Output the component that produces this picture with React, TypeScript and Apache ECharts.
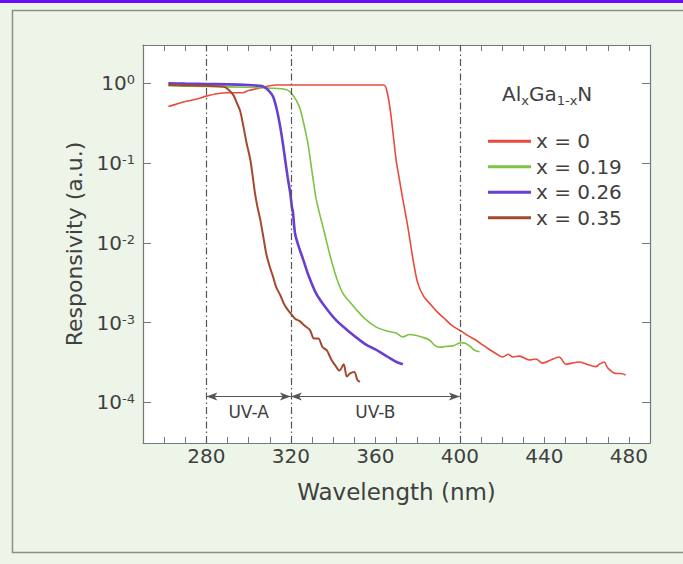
import React, { useEffect, useRef } from "react";
import * as echarts from "echarts";

// x = 0
const redWl = [262, 266, 270, 275, 280, 285, 290, 297, 300, 305, 310, 313, 330, 350, 364, 365.5, 367, 368.5, 369.8, 371, 373, 375, 376.4, 377.8, 380.1, 383, 385.7, 389, 392, 396, 400.6, 404, 407.7, 411, 414, 417, 420.3, 423, 425, 428.2, 432.8, 436, 439.2, 443, 447, 450.2, 453, 456.5, 460, 464.4, 466, 468.3, 470, 473.8, 476, 478.5];
const redVal = [0.51, 0.55, 0.59, 0.63, 0.69, 0.74, 0.76, 0.76, 0.81, 0.87, 0.93, 0.95, 0.95, 0.95, 0.95, 0.79, 0.47, 0.22, 0.11, 0.071, 0.035, 0.018, 0.0107, 0.0062, 0.0031, 0.0021, 0.00174, 0.00138, 0.00117, 0.00093, 0.00078, 0.00068, 0.0006, 0.00052, 0.00046, 0.00041, 0.00037, 0.0004, 0.00037, 0.00038, 0.00034, 0.00035, 0.00031, 0.00034, 0.00037, 0.0003, 0.00031, 0.00032, 0.0003, 0.00028, 0.0003, 0.00032, 0.00027, 0.00023, 0.00023, 0.00022];

// x = 0.19
const greenWl = [262, 280, 300, 310, 318, 321, 324, 326, 328, 329, 330.5, 332, 334, 336, 338, 340, 342, 344.7, 348, 351, 355, 360, 365, 369.8, 373, 376, 379.4, 382, 385.7, 388, 390.4, 393, 396.7, 400.6, 402.5, 404.6, 407, 409.3];
const greenVal = [0.93, 0.91, 0.89, 0.87, 0.83, 0.71, 0.51, 0.32, 0.18, 0.12, 0.063, 0.035, 0.021, 0.013, 0.0079, 0.005, 0.0034, 0.0023, 0.0018, 0.00145, 0.00112, 0.00089, 0.00079, 0.00074, 0.00066, 0.00071, 0.00069, 0.00066, 0.0006, 0.00052, 0.00049, 0.0005, 0.00051, 0.00056, 0.00055, 0.00051, 0.00045, 0.00043];

// x = 0.26
const purpleWl = [262, 270, 280, 290, 300, 305, 307, 309.5, 311.6, 313.5, 315, 316.3, 317.3, 318.5, 319.7, 320.5, 321, 322, 324, 325.8, 328.5, 332, 336, 341.4, 347, 352.7, 356, 360, 366, 370, 373];
const purpleVal = [1.0, 0.99, 0.98, 0.97, 0.95, 0.93, 0.91, 0.81, 0.68, 0.45, 0.28, 0.17, 0.11, 0.066, 0.042, 0.028, 0.024, 0.013, 0.0085, 0.0062, 0.0038, 0.0023, 0.0016, 0.00107, 0.00079, 0.0006, 0.00052, 0.00046, 0.00037, 0.00032, 0.0003];

// x = 0.35
const brownWl = [262, 270, 280, 288, 290.5, 292.8, 294.5, 296, 297.5, 299, 300.8, 302, 303, 304.2, 305.5, 307, 308.3, 310, 311.5, 313, 315, 317, 319.7, 322, 324, 327, 329, 331, 333, 335, 337, 339, 341.4, 343, 345, 346.5, 348, 350, 351.5, 352.7];
const brownVal = [0.95, 0.94, 0.93, 0.91, 0.83, 0.71, 0.56, 0.45, 0.29, 0.18, 0.11, 0.066, 0.042, 0.028, 0.0195, 0.0117, 0.0074, 0.005, 0.0038, 0.0028, 0.0022, 0.00166, 0.00132, 0.00112, 0.00105, 0.00089, 0.00081, 0.00063, 0.00063, 0.00049, 0.00045, 0.00035, 0.00028, 0.00025, 0.0003, 0.00021, 0.00023, 0.00024, 0.00019, 0.00018];

const seriesNames = ["x = 0", "x = 0.19", "x = 0.26", "x = 0.35"];
const xTickLabels = [280, 320, 360, 400, 440, 480];
const boundaryWl = [280, 320, 400];
const uvBands = [
  { name: "UV-A", from: 280, to: 320 },
  { name: "UV-B", from: 320, to: 400 },
];
const bandArrowLevel = 1.18e-4;

const zip = (a: number[], b: number[]) => a.map((v, i) => [v, b[i]]);

const FONT = "DejaVu Sans";
const TXT = "#404040";

export default function App() {
  const ref = useRef<HTMLDivElement>(null);
  useEffect(() => {
    document.body.style.margin = "0";
    const chart = echarts.init(ref.current!, null, { renderer: "svg" });
    const yMin = Math.pow(10, -4.51);
    const yMax = Math.pow(10, 0.48);
    const yLabel = (v: number) => {
      const e = Math.log10(v);
      const r = Math.round(e);
      if (Math.abs(e - r) > 1e-6) return "";
      return "{b|10}{s|" + r + "}";
    };
    const commonX = {
      type: "value" as const,
      min: 250,
      max: 490,
      interval: 10,
      splitLine: { show: false },
      axisLine: { show: true, lineStyle: { color: "#777", width: 1.2 } },
      axisTick: { show: true, inside: true, length: 6, lineStyle: { color: "#777", width: 1 } },
    };
    const commonY = {
      type: "log" as const,
      logBase: 10,
      min: yMin,
      max: yMax,
      splitLine: { show: false },
      minorTick: { show: false },
      axisLine: { show: true, lineStyle: { color: "#777", width: 1.2 } },
      axisTick: { show: true, inside: true, length: 8, lineStyle: { color: "#777", width: 1 } },
    };
    const smooth = 0.3;
    chart.setOption({
      animation: false,
      backgroundColor: "#edf5e9",
      textStyle: { fontFamily: FONT },
      grid: { left: 143, top: 45, right: 33, bottom: 121, show: true, backgroundColor: "#ffffff", borderWidth: 0 },
      xAxis: [
        {
          ...commonX,
          position: "bottom",
          name: "Wavelength (nm)",
          nameLocation: "middle",
          nameGap: 37,
          nameTextStyle: { fontFamily: FONT, fontSize: 23, color: TXT },
          axisLabel: {
            margin: 3,
            fontFamily: FONT,
            fontSize: 20,
            color: TXT,
            formatter: (v: number) => (xTickLabels.indexOf(v) >= 0 ? String(v) : ""),
          },
        },
        { ...commonX, position: "top", axisLabel: { show: false } },
      ],
      yAxis: [
        {
          ...commonY,
          position: "left",
          name: "Responsivity (a.u.)",
          nameLocation: "middle",
          nameGap: 57,
          nameTextStyle: { fontFamily: FONT, fontSize: 22, color: TXT },
          axisLabel: {
            margin: 8,
            showMinLabel: false,
            showMaxLabel: false,
            formatter: yLabel,
            rich: {
              b: { fontFamily: FONT, fontSize: 20, color: TXT },
              s: { fontFamily: FONT, fontSize: 13, color: TXT, verticalAlign: "top", padding: [0, 0, 6, 0] },
            },
          },
        },
        { ...commonY, position: "right", axisLabel: { show: false } },
      ],
      legend: {
        data: seriesNames,
        orient: "vertical",
        left: 488,
        top: 131,
        icon: "rect",
        itemWidth: 43,
        itemHeight: 3,
        itemGap: 5,
        padding: 0,
        textStyle: { fontFamily: FONT, fontSize: 20, color: TXT, lineHeight: 20.5 },
      },
      graphic: [
        { type: "rect", shape: { x: 0, y: 0, width: 683, height: 3 }, style: { fill: "#6a0cf5" }, silent: true },
        {
          type: "rect",
          shape: { x: 12.5, y: 10.5, width: 700, height: 542 },
          style: { fill: "none", stroke: "#8a8f88", lineWidth: 1.5 },
          silent: true,
        },
        {
          type: "text",
          left: 502,
          top: 84,
          style: {
            text: "{n|Al}{s|x}{n|Ga}{s|1-x}{n|N}",
            rich: {
              n: { fontFamily: FONT, fontSize: 20, fill: TXT, color: TXT, lineHeight: 26 },
              s: { fontFamily: FONT, fontSize: 13, fill: TXT, color: TXT, verticalAlign: "bottom", lineHeight: 26 },
            },
          },
        },
      ],
      series: [
        {
          name: seriesNames[0],
          type: "line",
          data: zip(redWl, redVal),
          showSymbol: false,
          smooth,
          color: "#e94a3a",
          lineStyle: { width: 1.6, color: "#e94a3a" },
          markLine: {
            silent: true,
            symbol: "none",
            label: { show: false },
            lineStyle: { color: "#555", width: 1.2, type: [7, 3, 1.5, 3] },
            data: boundaryWl.map((w) => ({ xAxis: w })),
          },
        },
        {
          name: seriesNames[1],
          type: "line",
          data: zip(greenWl, greenVal),
          showSymbol: false,
          smooth,
          color: "#7cc343",
          lineStyle: { width: 1.6, color: "#7cc343" },
          markLine: {
            silent: true,
            symbol: ["arrow", "arrow"],
            symbolSize: [6, 11],
            lineStyle: { color: "#555", width: 1.2, type: "solid" },
            label: {
              show: true,
              position: "insideMiddleBottom",
              distance: 7,
              fontFamily: FONT,
              fontSize: 17,
              color: TXT,
              formatter: (p: any) => p.name,
            },
            data: uvBands.map((b) => [
              { name: b.name, coord: [b.from, bandArrowLevel] },
              { coord: [b.to, bandArrowLevel] },
            ]),
          },
        },
        {
          name: seriesNames[2],
          type: "line",
          data: zip(purpleWl, purpleVal),
          showSymbol: false,
          smooth,
          color: "#6a3fcf",
          lineStyle: { width: 2.6, color: "#6a3fcf" },
        },
        {
          name: seriesNames[3],
          type: "line",
          data: zip(brownWl, brownVal),
          showSymbol: false,
          smooth,
          color: "#a4482f",
          lineStyle: { width: 2, color: "#a4482f" },
        },
      ],
    });
    return () => chart.dispose();
  }, []);
  return <div ref={ref} style={{ width: 683, height: 564 }} />;
}
